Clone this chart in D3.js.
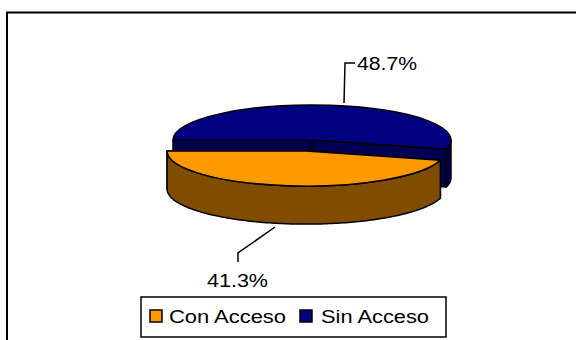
<!DOCTYPE html>
<html>
<head>
<meta charset="utf-8">
<script src="https://cdn.jsdelivr.net/npm/d3@7"></script>
<style>
  html, body { margin: 0; padding: 0; background: #fff; }
  svg { display: block; }
  text { font-family: "Liberation Sans", Arial, sans-serif; fill: #000; }
</style>
</head>
<body>
<svg id="chart" width="576" height="340"></svg>
<script>
// Access share by category
const categories = ["Con Acceso", "Sin Acceso"];
const values = [41.3, 48.7];
const valueLabels = ["41.3%", "48.7%"];
const topColors = ["#FF9900", "#000080"];
const sideColors = ["#7F4C00", "#000050"];

const svg = d3.select("#chart");

// Outer frame (runs off the right and bottom edges)
svg.append("rect")
  .attr("x", 7).attr("y", 12.5)
  .attr("width", 640).attr("height", 400)
  .attr("fill", "none").attr("stroke", "#000").attr("stroke-width", 2);

// 3D pie geometry
const cx = 312, cy = 140, rx = 139, ry = 35, depth = 38;
const explodeFrac = [0.32, 0];

const pie = d3.pie().sort(null).value(d => d)
  .startAngle(105 * Math.PI / 180)
  .endAngle(105 * Math.PI / 180 + 2 * Math.PI);
const arcs = pie(values);

const arcGen = d3.arc().innerRadius(0).outerRadius(rx);

function pt(a, dx, dy, z) {
  return [dx + rx * Math.sin(a), dy - ry * Math.cos(a) + z];
}
function sampleArc(a0, a1, dx, dy, z) {
  const n = Math.max(2, Math.ceil(Math.abs(a1 - a0) / 0.02));
  return d3.range(n + 1).map(i => pt(a0 + (a1 - a0) * i / n, dx, dy, z));
}
const line = d3.line();

const g = svg.append("g").attr("transform", `translate(${cx},${cy})`);

// draw back slice first, exploded front slice last
const order = [1, 0];
order.forEach(i => {
  const d = arcs[i];
  const mid = (d.startAngle + d.endAngle) / 2;
  const dx = explodeFrac[i] * rx * Math.sin(mid);
  const dy = -explodeFrac[i] * ry * Math.cos(mid);
  const sg = g.append("g").attr("class", "slice-" + i);

  // radial cut faces
  [d.startAngle, d.endAngle].forEach(a => {
    const p = pt(a, dx, dy, 0);
    const face = [[dx, dy], p, [p[0], p[1] + depth], [dx, dy + depth]];
    sg.append("path")
      .attr("d", line(face) + "Z")
      .attr("fill", sideColors[i])
      .attr("stroke", "#000").attr("stroke-width", 1.5)
      .attr("stroke-linejoin", "round");
  });

  // outer wall, front-facing part only (angles between PI/2 and 3PI/2)
  const twoPi = 2 * Math.PI;
  [0, twoPi].forEach(shift => {
    const lo = Math.max(d.startAngle, Math.PI / 2 + shift);
    const hi = Math.min(d.endAngle, 3 * Math.PI / 2 + shift);
    if (hi > lo) {
      const topPts = sampleArc(lo, hi, dx, dy, 0);
      const botPts = sampleArc(hi, lo, dx, dy, depth);
      sg.append("path")
        .attr("d", line(topPts.concat(botPts)) + "Z")
        .attr("fill", sideColors[i])
        .attr("stroke", "#000").attr("stroke-width", 1.5)
        .attr("stroke-linejoin", "round");
    }
  });

  // top face
  sg.append("path")
    .attr("d", arcGen(d))
    .attr("transform", `translate(${dx},${dy}) scale(1,${ry / rx})`)
    .attr("fill", topColors[i])
    .attr("stroke", "#000").attr("stroke-width", 1.5)
    .attr("vector-effect", "non-scaling-stroke")
    .attr("stroke-linejoin", "round");
});

// Value labels with leader lines
const leaders = [
  [[275, 227], [238, 253], [238, 262]],
  [[344, 103], [345, 63], [355, 63]]
];
leaders.forEach(pts => {
  svg.append("path").attr("d", line(pts))
    .attr("fill", "none").attr("stroke", "#000").attr("stroke-width", 1.5);
});
const labelPos = [[207, 287, 61], [357, 70, 60]];
valueLabels.forEach((t, i) => {
  svg.append("text")
    .attr("x", labelPos[i][0]).attr("y", labelPos[i][1])
    .attr("font-size", 18)
    .attr("textLength", labelPos[i][2])
    .attr("lengthAdjust", "spacingAndGlyphs")
    .text(t);
});

// Legend
const legend = svg.append("g");
legend.append("rect")
  .attr("x", 141).attr("y", 297).attr("width", 305).attr("height", 40)
  .attr("fill", "#fff").attr("stroke", "#000").attr("stroke-width", 1.5);
const legendItems = [[150, 169, 117], [300, 321, 108]];
categories.forEach((c, i) => {
  legend.append("rect")
    .attr("x", legendItems[i][0]).attr("y", 310).attr("width", 12).attr("height", 12)
    .attr("fill", topColors[i]).attr("stroke", "#000").attr("stroke-width", 1.5);
  legend.append("text")
    .attr("x", legendItems[i][1]).attr("y", 323)
    .attr("font-size", 18)
    .attr("textLength", legendItems[i][2])
    .attr("lengthAdjust", "spacingAndGlyphs")
    .text(c);
});
</script>
</body>
</html>
